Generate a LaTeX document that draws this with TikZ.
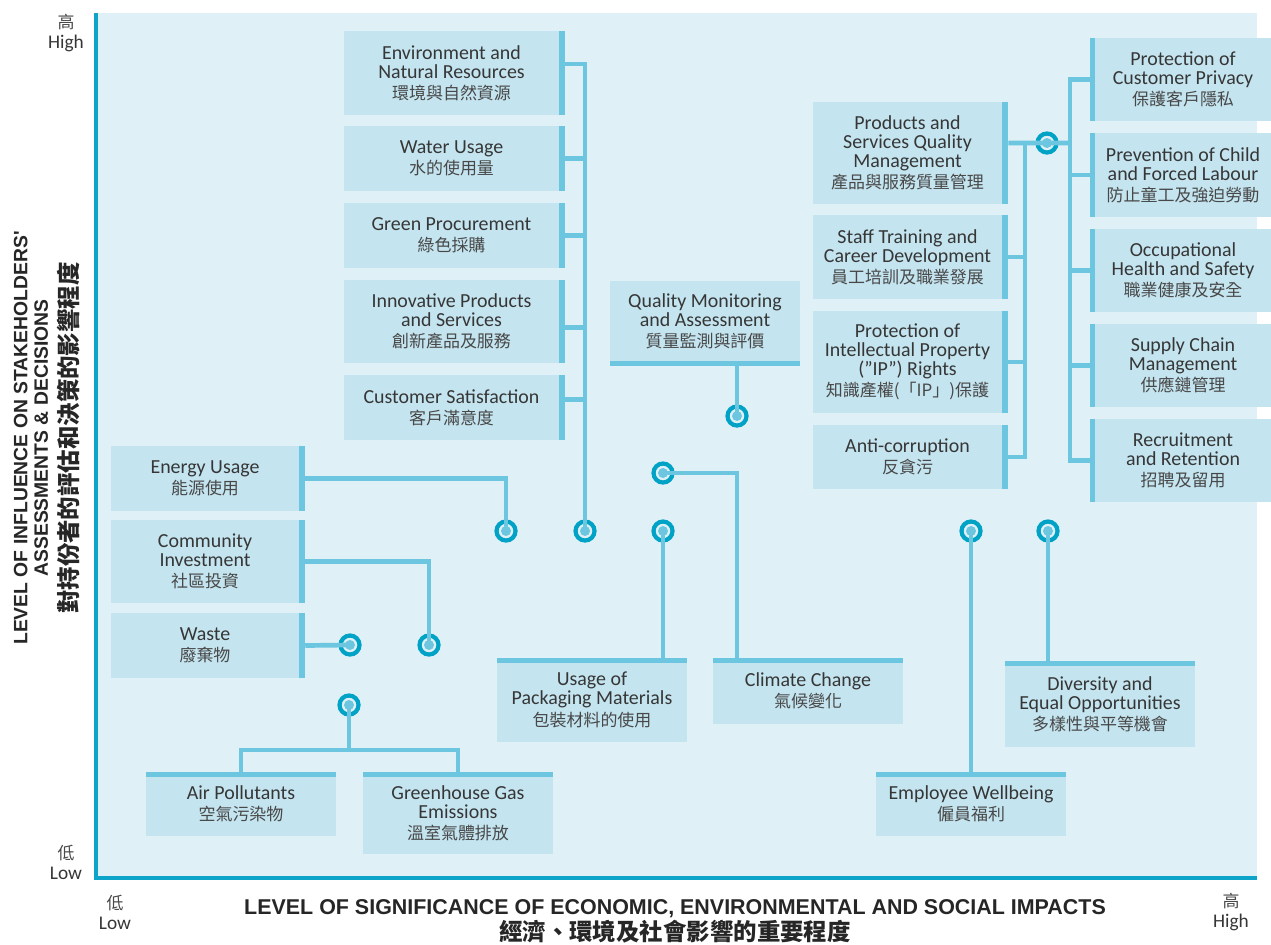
\documentclass[tikz,border=0pt]{standalone}
\usepackage{fontspec}
\setmainfont{Carlito}
\newfontfamily\cjk{Noto Sans CJK TC}
\newfontfamily\headfont{Liberation Sans}
\usetikzlibrary{calc,positioning}

\definecolor{chartbg}{HTML}{DFF0F7}
\definecolor{boxfill}{HTML}{C4E4EF}
\definecolor{linkcol}{HTML}{6CC6DF}
\definecolor{ringcol}{HTML}{00A2C6}
\definecolor{axiscol}{HTML}{0EA3C9}
\definecolor{entext}{HTML}{363636}
\definecolor{zhtext}{HTML}{484848}

\newcommand{\zh}[1]{{\cjk\fontsize{14.5}{17}\selectfont\color{zhtext}#1}}

\begin{document}
\begin{tikzpicture}[x=0.03cm, y=-0.03cm,
  topic/.style={fill=boxfill, inner sep=0pt, align=center, text=entext,
    font=\fontsize{17}{16.2}\selectfont},
  link/.style={linkcol, line width=4pt},
  hub/.style={circle, draw=ringcol, line width=3.6pt, fill=chartbg,
    minimum size=0.57cm, inner sep=0pt,
    path picture={\fill[linkcol] (path picture bounding box.center) circle (0.15cm);}},
  axislbl/.style={align=center, text=entext, font=\fontsize{16.5}{17}\selectfont}]
\useasboundingbox (0,0) rectangle (1271,944);

% Chart area and axes
\fill[chartbg] (95,13) rectangle (1257,878);
\draw[axiscol, line width=3.4pt] (96,13) -- (96,878) -- (1257,878);

% Axis labels
\node[axislbl] (yhigh) at (66,33) {\zh{高}\\High};
\node[axislbl] (ylow) at (66,862) {\zh{低}\\Low};
\node[axislbl] (xlow) at (115,912) {\zh{低}\\Low};
\node[axislbl] (xhigh) at (1231,912) {\zh{高}\\High};
\node[align=center, text=black!85, font=\headfont\bfseries\fontsize{18.3}{22}\selectfont] (xtitle) at (675,921)
  {LEVEL OF SIGNIFICANCE OF ECONOMIC, ENVIRONMENTAL AND SOCIAL IMPACTS\\
   {\cjk\bfseries\fontsize{20}{21}\selectfont 經濟、環境及社會影響的重要程度}};
\node[rotate=90, align=center, text=black!85, font=\headfont\bfseries\fontsize{16.5}{17.5}\selectfont] (ytitle) at (47,438)
  {LEVEL OF INFLUENCE ON STAKEHOLDERS'\\ASSESSMENTS \& DECISIONS\\[7pt]
   {\cjk\bfseries\fontsize{20}{20}\selectfont 對持份者的評估和決策的影響程度}};

% Environment column
\node[topic, minimum width=6.45cm, minimum height=2.52cm] (env) at (451.5,73) {Environment and\\Natural Resources\\[2pt]\zh{環境與自然資源}};
\node[topic, minimum width=6.45cm, minimum height=1.95cm] (water) at (451.5,158.5) {Water Usage\\[2pt]\zh{水的使用量}};
\node[topic, minimum width=6.45cm, minimum height=1.95cm] (green) at (451.5,235.5) {Green Procurement\\[2pt]\zh{綠色採購}};
\node[topic, minimum width=6.45cm, minimum height=2.49cm] (innov) at (451.5,321.5) {Innovative Products\\and Services\\[2pt]\zh{創新產品及服務}};
\node[topic, minimum width=6.45cm, minimum height=1.95cm] (custsat) at (451.5,407.5) {Customer Satisfaction\\[2pt]\zh{客戶滿意度}};
\node[topic, minimum width=5.7cm, minimum height=2.4cm] (qma) at (705,321) {Quality Monitoring\\and Assessment\\[2pt]\zh{質量監測與評價}};

% Operating practices
\node[topic, minimum width=5.67cm, minimum height=3.06cm] (prodq) at (907.5,153) {Products and\\Services Quality\\Management\\[2pt]\zh{產品與服務質量管理}};
\node[topic, minimum width=5.67cm, minimum height=2.52cm] (staff) at (907.5,257) {Staff Training and\\Career Development\\[2pt]\zh{員工培訓及職業發展}};
\node[topic, minimum width=5.67cm, minimum height=3.06cm] (ipr) at (907.5,362) {Protection of\\Intellectual Property\\("IP") Rights\\[2pt]\zh{知識產權(「IP」)保護}};
\node[topic, minimum width=5.67cm, minimum height=1.92cm] (anticorr) at (907.5,457) {Anti-corruption\\[2pt]\zh{反貪污}};

\node[topic, minimum width=5.28cm, minimum height=2.49cm] (privacy) at (1183,79.5) {Protection of\\Customer Privacy\\[2pt]\zh{保護客戶隱私}};
\node[topic, minimum width=5.28cm, minimum height=2.52cm] (childlab) at (1183,175) {Prevention of Child\\and Forced Labour\\[2pt]\zh{防止童工及強迫勞動}};
\node[topic, minimum width=5.28cm, minimum height=2.49cm] (ohs) at (1183,270.5) {Occupational\\Health and Safety\\[2pt]\zh{職業健康及安全}};
\node[topic, minimum width=5.28cm, minimum height=2.49cm] (supply) at (1183,365.5) {Supply Chain\\Management\\[2pt]\zh{供應鏈管理}};
\node[topic, minimum width=5.28cm, minimum height=2.49cm] (recruit) at (1183,460.5) {Recruitment\\and Retention\\[2pt]\zh{招聘及留用}};

% Lower left
\node[topic, minimum width=5.64cm, minimum height=1.95cm] (energy) at (205,478.5) {Energy Usage\\[2pt]\zh{能源使用}};
\node[topic, minimum width=5.64cm, minimum height=2.49cm] (community) at (205,561.5) {Community\\Investment\\[2pt]\zh{社區投資}};
\node[topic, minimum width=5.64cm, minimum height=1.95cm] (waste) at (205,645.5) {Waste\\[2pt]\zh{廢棄物}};
\node[topic, minimum width=5.7cm, minimum height=1.89cm] (air) at (241,804) {Air Pollutants\\[2pt]\zh{空氣污染物}};
\node[topic, minimum width=5.7cm, minimum height=2.46cm] (ghg) at (458,813) {Greenhouse Gas\\Emissions\\[2pt]\zh{溫室氣體排放}};

% Lower middle and right
\node[topic, minimum width=5.7cm, minimum height=2.52cm] (pack) at (592,700) {Usage of\\Packaging Materials\\[2pt]\zh{包裝材料的使用}};
\node[topic, minimum width=5.7cm, minimum height=1.95cm] (clim) at (808,691) {Climate Change\\[2pt]\zh{氣候變化}};
\node[topic, minimum width=5.7cm, minimum height=1.89cm] (emp) at (971,804) {Employee Wellbeing\\[2pt]\zh{僱員福利}};
\node[topic, minimum width=5.7cm, minimum height=2.58cm] (div) at (1100,704) {Diversity and\\Equal Opportunities\\[2pt]\zh{多樣性與平等機會}};

% Rating circles
\foreach \n/\x/\y in {h_energy/506/531, h_env/585/531, h_pack/663/531, h_clim/663/473,
  h_qma/737/416, h_comm/429/645, h_waste/350/645, h_air/349/705,
  h_emp/971/531, h_div/1048/531, h_prod/1047/143}
  \node[hub] (\n) at (\x,\y) {};

% Connectors
\draw[link] ([xshift=0.18cm,yshift=0.27cm]env.east) -| (h_env.center);
\draw[link] ([xshift=0.18cm]water.east) -- (water.east -| h_env.center);
\draw[link] ([xshift=0.18cm]green.east) -- (green.east -| h_env.center);
\draw[link] ([xshift=0.18cm,yshift=-0.17cm]innov.east) -- ([yshift=-0.17cm]innov.east -| h_env.center);
\draw[link] ([xshift=0.18cm,yshift=0.25cm]custsat.east) -- ([yshift=0.25cm]custsat.east -| h_env.center);
\draw[link] (h_qma.center) -- (h_qma.center |- qma.south);

\coordinate (lt) at (1025,143);
\coordinate (rt) at (1070,143);
\draw[link] ([xshift=0.18cm,yshift=0.3cm]prodq.east) -- (rt);
\draw[link] (lt) |- ([xshift=0.18cm]anticorr.east);
\foreach \b in {staff,ipr}
  \draw[link] ([xshift=0.18cm]\b.east) -- (\b.east -| lt);
\draw[link] ([xshift=-0.15cm]privacy.west) -| (rt) |- ([xshift=-0.15cm]recruit.west);
\foreach \b in {childlab,ohs,supply}
  \draw[link] ([xshift=-0.15cm]\b.west) -- (\b.west -| rt);

\draw[link] ([xshift=0.18cm]energy.east) -| (h_energy.center);
\draw[link] ([xshift=0.18cm]community.east) -| (h_comm.center);
\draw[link] ([xshift=0.18cm]waste.east) -- (h_waste.center);

\coordinate (ag) at (349,750);
\draw[link] (h_air.center) -- (ag);
\draw[link] (air.north) |- (ag) -| (ghg.north);

\draw[link] (h_pack.center) -- (h_pack.center |- pack.north);
\draw[link] (h_clim.center) -| ([xshift=-2.13cm]clim.north);
\draw[link] (h_emp.center) -- (emp.north);
\draw[link] (h_div.center) -- (h_div.center |- div.north);

% Bars on box edges
\foreach \b in {env,water,green,innov,custsat,prodq,staff,ipr,anticorr,energy,community,waste}
  \fill[linkcol] (\b.north east) rectangle ([xshift=0.18cm]\b.south east);
\foreach \b in {privacy,childlab,ohs,supply,recruit}
  \fill[linkcol] ([xshift=-0.15cm]\b.north west) rectangle (\b.south west);
\foreach \b in {air,ghg,pack,clim,emp,div}
  \fill[linkcol] (\b.north west) rectangle ([yshift=-0.15cm]\b.north east);
\fill[linkcol] (qma.south west) rectangle ([yshift=-0.15cm]qma.south east);
\end{tikzpicture}
\end{document}
